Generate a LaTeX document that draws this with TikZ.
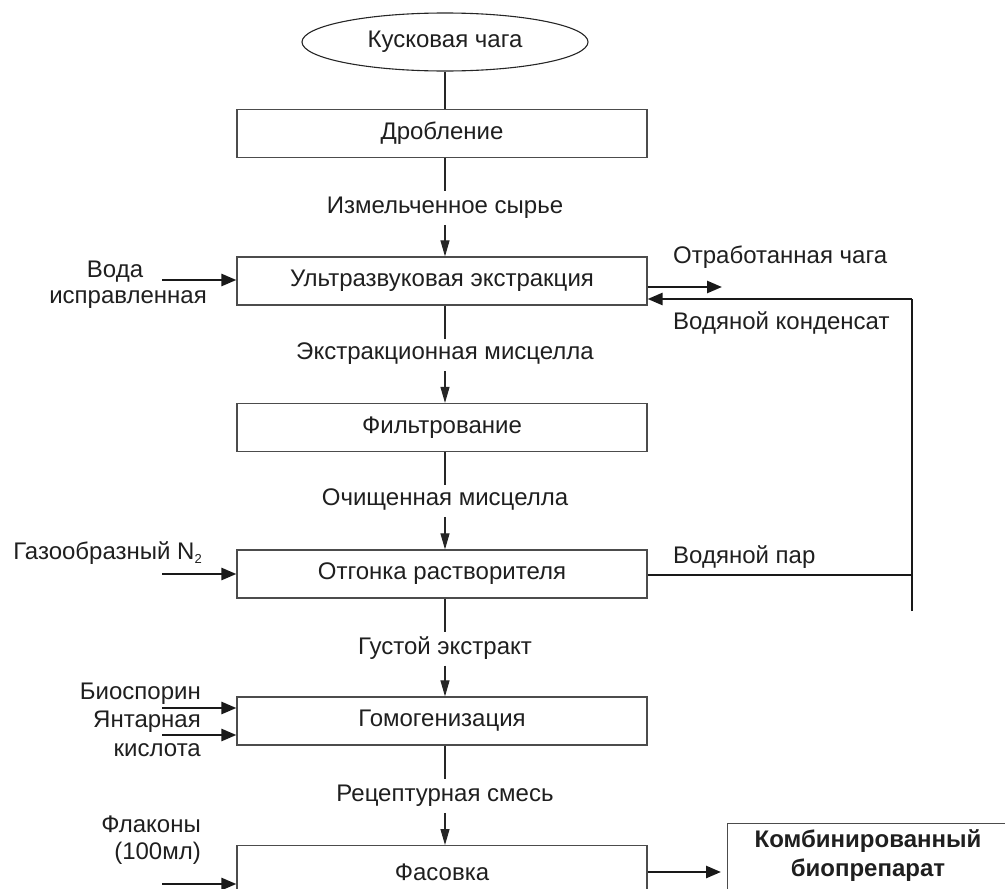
\documentclass[tikz,border=0pt]{standalone}
\usepackage{fontspec}
\setmainfont{Liberation Sans}
\usetikzlibrary{arrows.meta,shapes.geometric}
\begin{document}
\begin{tikzpicture}[x=1pt,y=-1pt,
  every node/.style={font=\fontsize{24}{28}\selectfont, text=black!88},
  procbox/.style={draw=black!70, line width=1.2pt, minimum width=410pt, minimum height=48pt, inner sep=0pt},
  lbl/.style={inner sep=0pt},
  thin/.style={line width=1.1pt, draw=black!85},
  dnarrow/.style={thin, -{Triangle[length=16pt,width=9pt]}},
  sidearrow/.style={line width=2.6pt, draw=black!90, -{Triangle[length=15pt,width=12pt]}},
  feed/.style={line width=2.6pt, draw=black!90}
]
\useasboundingbox (0,0) rectangle (1005,889);
\clip (0,0) rectangle (1005,889);

% main column
\node[draw=black!85, line width=1.1pt, ellipse, minimum width=286pt, minimum height=58pt, inner sep=0pt] (raw) at (445,42) {Кусковая чага};
\node[procbox] (drob) at (442,133.5) {Дробление};
\node[lbl] (l1) at (445,208) {Измельченное сырье};
\node[procbox] (ultra) at (442,281) {Ультразвуковая экстракция};
\node[lbl] (l2) at (445,354) {Экстракционная мисцелла};
\node[procbox] (filt) at (442,427.5) {Фильтрование};
\node[lbl] (l3) at (445,500) {Очищенная мисцелла};
\node[procbox] (otg) at (442,574) {Отгонка растворителя};
\node[lbl] (l4) at (445,648) {Густой экстракт};
\node[procbox] (gomo) at (442,721) {Гомогенизация};
\node[lbl] (l5) at (445,796) {Рецептурная смесь};
\node[procbox, minimum height=80pt, anchor=north] (fas) at (442,845) {};
\node (fastext) at (442,872) {Фасовка};
\node[draw=black!70, line width=1.2pt, minimum width=300pt, minimum height=80pt, anchor=north west, inner sep=0pt] (fin) at (727,823) {};
\node[font=\fontsize{24}{29}\selectfont\bfseries, align=center, text=black!88] (fintext) at (868,856) {Комбинированный\\биопрепарат};

% vertical connectors
\draw[thin] (raw.south) -- (raw.south |- drob.north);
\draw[thin] (drob.south -| l1) -- ++(0,33);
\draw[dnarrow] (l1.south) ++(0,6) coordinate (c1b) -- (c1b |- ultra.north);
\draw[thin] (ultra.south -| l2) -- ++(0,33);
\draw[dnarrow] (l2.south) ++(0,6) coordinate (c2b) -- (c2b |- filt.north);
\draw[thin] (filt.south -| l3) -- ++(0,33);
\draw[dnarrow] (l3.south) ++(0,6) coordinate (c3b) -- (c3b |- otg.north);
\draw[thin] (otg.south -| l4) -- ++(0,33);
\draw[dnarrow] (l4.south) ++(0,6) coordinate (c4b) -- (c4b |- gomo.north);
\draw[thin] (gomo.south -| l5) -- ++(0,33);
\draw[dnarrow] (l5.south) ++(0,6) coordinate (c5b) -- (c5b |- fas.north);

% left inputs
\node[lbl] (voda) at (115,272) {Вода};
\node[lbl] (ispr) at (128,300) {исправленная};
\coordinate (vin) at (162,280);
\draw[sidearrow] (vin) -- (vin -| ultra.west);

\node[lbl, anchor=east] (gaz) at (202,553) {Газообразный N\raisebox{-0.35ex}{\fontsize{13}{13}\selectfont 2}};
\coordinate (gin) at (162,574);
\draw[sidearrow] (gin) -- (gin -| otg.west);

\node[lbl, anchor=east] (bio) at (201,694) {Биоспорин};
\node[lbl, anchor=east] (yant) at (201,722) {Янтарная};
\node[lbl, anchor=east] (kisl) at (201,750) {кислота};
\coordinate (bin) at (162,708);
\coordinate (yin) at (162,735);
\draw[sidearrow] (bin) -- (bin -| gomo.west);
\draw[sidearrow] (yin) -- (yin -| gomo.west);

\node[lbl, anchor=east] (flak) at (201,824) {Флаконы};
\node[lbl, anchor=east] (ml) at (201,853) {(100мл)};
\coordinate (fin1) at (162,884);
\draw[sidearrow] (fin1) -- (fin1 -| fas.west);

% right side
\coordinate (waste) at (722,287);
\draw[sidearrow] (ultra.east |- waste) -- (waste);
\node[lbl, anchor=west] (otr) at (673,257) {Отработанная чага};
\coordinate (rtop) at (912,299);
\coordinate (rbot) at (912,611);
\draw[feed] (rbot) -- (rtop);
\draw[sidearrow] (rtop) -- (rtop -| ultra.east);
\node[lbl, anchor=west] (kond) at (673,323) {Водяной конденсат};
\coordinate (parj) at (912,575);
\draw[feed] (otg.east |- parj) -- (parj);
\node[lbl, anchor=west] (par) at (673,557) {Водяной пар};

\coordinate (finin) at (721,872);
\draw[sidearrow] (fas.east |- finin) -- (finin);
\end{tikzpicture}
\end{document}
